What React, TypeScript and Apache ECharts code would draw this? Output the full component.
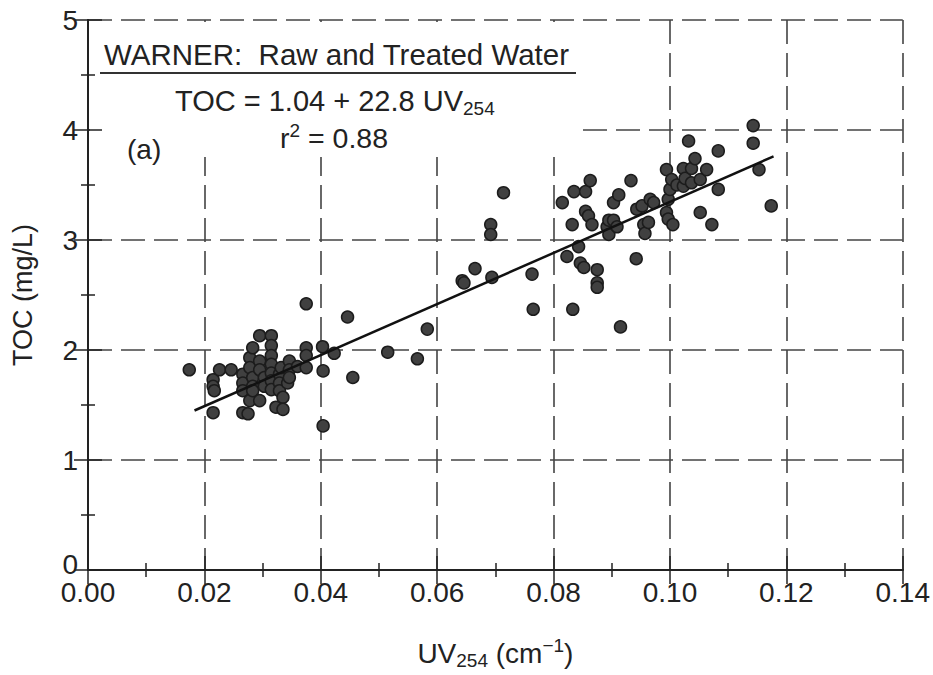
import React, { useEffect, useRef } from "react";
import * as echarts from "echarts";

// UV254 (cm^-1), TOC (mg/L) pairs
const lowGroup: [number, number][] = [
  [0.0174, 1.82], [0.0215, 1.73], [0.0215, 1.67], [0.0217, 1.63], [0.0215, 1.43],
  [0.0226, 1.82], [0.0246, 1.82], [0.0266, 1.43], [0.0275, 1.42], [0.0266, 1.78],
  [0.0266, 1.70], [0.0266, 1.63], [0.0278, 1.93], [0.0278, 1.84], [0.0278, 1.54],
  [0.0283, 1.75], [0.0283, 1.67], [0.0283, 1.63], [0.0283, 2.02], [0.0295, 2.13],
  [0.0295, 1.90], [0.0295, 1.82], [0.0295, 1.54], [0.0303, 1.75], [0.0303, 1.67],
  [0.0315, 2.13], [0.0315, 2.04], [0.0315, 1.95], [0.0315, 1.87], [0.0315, 1.79],
  [0.0315, 1.72], [0.0315, 1.64], [0.0323, 1.48], [0.0329, 1.78], [0.0329, 1.70],
  [0.0329, 1.63], [0.0332, 1.84], [0.0335, 1.57], [0.0335, 1.46], [0.0343, 1.70],
  [0.0346, 1.90], [0.0346, 1.82], [0.0346, 1.75], [0.0360, 1.85], [0.0375, 2.42],
  [0.0375, 2.02], [0.0375, 1.95], [0.0375, 1.84], [0.0403, 2.03], [0.0404, 1.81],
  [0.0404, 1.31], [0.0423, 1.97], [0.0446, 2.30], [0.0455, 1.75], [0.0515, 1.98],
  [0.0566, 1.92], [0.0583, 2.19],
];

const midGroup: [number, number][] = [
  [0.0643, 2.63], [0.0646, 2.61], [0.0665, 2.74], [0.0692, 3.14], [0.0692, 3.05],
  [0.0694, 2.66], [0.0714, 3.43], [0.0763, 2.69], [0.0765, 2.37],
];

const highGroup: [number, number][] = [
  [0.0815, 3.34], [0.0823, 2.85], [0.0832, 3.14], [0.0833, 2.37], [0.0835, 3.44],
  [0.0843, 2.94], [0.0846, 2.79], [0.0852, 2.75], [0.0855, 3.44], [0.0855, 3.26],
  [0.0860, 3.22], [0.0863, 3.54], [0.0866, 3.14], [0.0875, 2.73], [0.0875, 2.61],
  [0.0875, 2.57], [0.0892, 3.12], [0.0895, 3.18], [0.0895, 3.05], [0.0903, 3.18],
  [0.0903, 3.34], [0.0909, 3.12], [0.0912, 3.41], [0.0915, 2.21], [0.0933, 3.54],
  [0.0942, 2.83], [0.0943, 3.28], [0.0952, 3.31], [0.0955, 3.14], [0.0957, 3.06],
  [0.0963, 3.16], [0.0966, 3.37], [0.0972, 3.34], [0.0994, 3.64], [0.0994, 3.25],
  [0.0997, 3.37], [0.0997, 3.19], [0.1000, 3.46], [0.1003, 3.55], [0.1005, 3.14],
  [0.1012, 3.50], [0.1023, 3.65], [0.1023, 3.49], [0.1026, 3.56], [0.1032, 3.90],
  [0.1037, 3.65], [0.1037, 3.52], [0.1043, 3.74], [0.1052, 3.55], [0.1052, 3.25],
  [0.1063, 3.64], [0.1072, 3.14], [0.1083, 3.81], [0.1083, 3.46], [0.1143, 4.04],
  [0.1143, 3.88], [0.1153, 3.64], [0.1174, 3.31],
];

// regression line TOC = 1.04 + 22.8 UV254 (end points as drawn)
const fitLine: [number, number][] = [
  [0.0183, 1.45],
  [0.1178, 3.76],
];

const xRange = { min: 0, max: 0.14, interval: 0.02 };
const yRange = { min: 0, max: 5, interval: 1 };

const titleText = "WARNER:\u00a0 Raw and Treated Water";
const equationText = "TOC = 1.04 + 22.8 UV{sub|254}";
const rSquaredText = "r{sup|2} = 0.88";
const panelText = "(a)";
const xAxisName = "UV{sub|254} (cm{sup|\u22121})";
const yAxisName = "TOC (mg/L)";

const FONT = '"Liberation Sans", Arial, Helvetica, sans-serif';
const INK = "#222";

const richStyles = {
  sub: { fontSize: 19, fontFamily: FONT, color: INK, fill: INK, verticalAlign: "bottom", lineHeight: 15 },
  sup: { fontSize: 19, fontFamily: FONT, color: INK, fill: INK, verticalAlign: "top", lineHeight: 15 },
};

export default function App() {
  const ref = useRef<HTMLDivElement>(null);

  useEffect(() => {
    if (!ref.current) return;
    const chart = echarts.init(ref.current, undefined, { renderer: "svg" });

    const axisLineStyle = { color: INK, width: 2 };
    const tickStyle = { color: INK, width: 1.5 };
    const gridLine = { show: true, lineStyle: { color: "#444", width: 1.6, type: [24, 9] } };

    const option: any = {
      animation: false,
      backgroundColor: "#ffffff",
      grid: { left: 88, top: 20, width: 817, height: 551, containLabel: false },
      xAxis: [
        {
          type: "value",
          ...xRange,
          position: "bottom",
          z: 0,
          axisLine: { show: true, lineStyle: axisLineStyle },
          axisTick: { show: true, inside: true, length: 14, lineStyle: tickStyle },
          minorTick: { show: true, splitNumber: 2, length: 7, lineStyle: tickStyle },
          axisLabel: {
            formatter: (v: number) => v.toFixed(2),
            fontSize: 28,
            color: INK,
            fontFamily: FONT,
            margin: 8,
          },
          splitLine: gridLine,
          name: xAxisName,
          nameLocation: "middle",
          nameGap: 66,
          nameTextStyle: {
            fontSize: 28,
            fontFamily: FONT,
            color: INK,
            lineHeight: 34,
            rich: richStyles,
          },
        },
        {
          type: "value",
          ...xRange,
          position: "top",
          z: 5,
          axisLine: { show: true, lineStyle: axisLineStyle },
          axisTick: { show: true, inside: true, length: 14, lineStyle: tickStyle },
          minorTick: { show: true, splitNumber: 2, length: 7, lineStyle: tickStyle },
          axisLabel: { show: false },
          splitLine: { show: false },
        },
      ],
      yAxis: [
        {
          type: "value",
          ...yRange,
          position: "left",
          z: 5,
          axisLine: { show: true, lineStyle: axisLineStyle },
          axisTick: { show: true, inside: true, length: 14, lineStyle: tickStyle },
          minorTick: { show: true, splitNumber: 2, length: 7, lineStyle: tickStyle },
          axisLabel: {
            fontSize: 28,
            color: INK,
            fontFamily: FONT,
            margin: 10,
            formatter: (v: number) => (v === 0 ? "{zero|0}" : String(v)),
            rich: {
              zero: { fontSize: 28, fontFamily: FONT, color: INK, padding: [0, 0, 12, 0] },
            },
          },
          splitLine: { show: false },
          name: yAxisName,
          nameLocation: "middle",
          nameRotate: 90,
          nameGap: 52,
          nameTextStyle: { fontSize: 27, fontFamily: FONT, color: INK },
        },
        {
          type: "value",
          ...yRange,
          position: "right",
          z: 0,
          axisLine: { show: true, lineStyle: axisLineStyle },
          axisTick: { show: true, inside: true, length: 14, lineStyle: tickStyle },
          minorTick: { show: true, splitNumber: 2, length: 7, lineStyle: tickStyle },
          axisLabel: { show: false },
          splitLine: gridLine,
        },
      ],
      graphic: [
        {
          type: "rect",
          z: 1,
          shape: { x: 90, y: 22, width: 491, height: 135 },
          style: { fill: "#ffffff" },
          silent: true,
        },
        {
          type: "text",
          z: 6,
          x: 104,
          y: 54,
          style: { text: titleText, fontSize: 29.5, fontFamily: FONT, fill: INK, align: "left", verticalAlign: "middle" },
        },
        {
          type: "line",
          z: 6,
          shape: { x1: 100, y1: 73, x2: 576, y2: 73 },
          style: { stroke: "#333", lineWidth: 2 },
        },
        {
          type: "text",
          z: 6,
          x: 175,
          y: 101,
          style: {
            text: equationText,
            fontSize: 29,
            fontFamily: FONT,
            fill: INK,
            align: "left",
            verticalAlign: "middle",
            lineHeight: 34,
            rich: richStyles,
          },
        },
        {
          type: "text",
          z: 6,
          x: 280,
          y: 138,
          style: {
            text: rSquaredText,
            fontSize: 28.5,
            fontFamily: FONT,
            fill: INK,
            align: "left",
            verticalAlign: "middle",
            lineHeight: 34,
            rich: richStyles,
          },
        },
        {
          type: "text",
          z: 6,
          x: 127,
          y: 149,
          style: { text: panelText, fontSize: 28, fontFamily: FONT, fill: INK, align: "left", verticalAlign: "middle" },
        },
      ],
      series: [
        {
          type: "scatter",
          xAxisIndex: 0,
          yAxisIndex: 0,
          data: [...lowGroup, ...midGroup, ...highGroup],
          symbol: "circle",
          symbolSize: 12,
          z: 3,
          itemStyle: { color: "#404040", borderColor: "#1c1c1c", borderWidth: 1.5, opacity: 1 },
        },
        {
          type: "line",
          xAxisIndex: 0,
          yAxisIndex: 0,
          data: fitLine,
          showSymbol: false,
          symbol: "none",
          z: 4,
          lineStyle: { color: "#111", width: 2.5 },
        },
      ],
    };

    chart.setOption(option);
    return () => chart.dispose();
  }, []);

  return (
    <div
      ref={ref}
      style={{ position: "fixed", left: 0, top: 0, width: 933, height: 675, background: "#fff" }}
    />
  );
}
